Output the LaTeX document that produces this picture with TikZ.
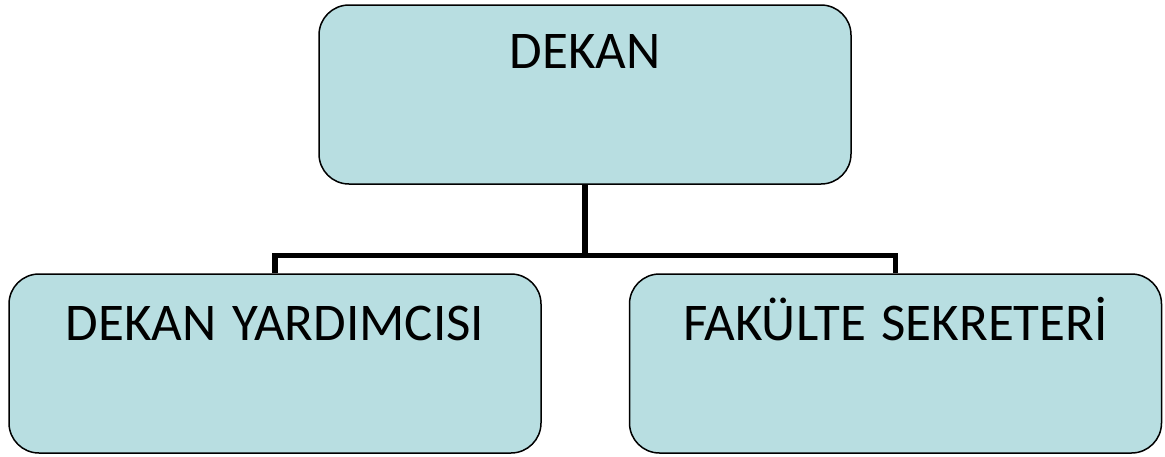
\documentclass[tikz,border=0pt]{standalone}
\usepackage{fontspec}
\setmainfont{Carlito}[WordSpace=1.3]
\definecolor{boxfill}{RGB}{184,222,225}
\begin{document}
\begin{tikzpicture}[x=1pt, y=-1pt,
  unit/.style={draw=black, line width=1.5pt, fill=boxfill, rounded corners=30pt,
    inner xsep=0pt, inner ysep=0pt, font=\fontsize{53}{63}\selectfont},
  topunit/.style={unit, minimum width=532pt, text height=63pt, text depth=116pt},
  subunit/.style={unit, minimum width=532pt, text height=66pt, text depth=113pt},
  conn/.style={line width=5.5pt}]
\useasboundingbox (0,0) rectangle (1165,456);
% Dean box
\node [topunit] (dekan) at (585,94.5) {DEKAN};
% Vice dean and faculty secretary boxes
\node [subunit] (yardimci) at (275,363.5) {DEKAN YARDIMCISI};
\node [subunit] (sekreter) at (895.5,363.5) {FAKÜLTE SEKRETERİ};
% Connectors
\coordinate (bus) at (dekan.south |- 0,255.5);
\draw [conn] (dekan.south) -- (bus) -| (yardimci.north);
\draw [conn] (bus) -| (sekreter.north);
\end{tikzpicture}
\end{document}
